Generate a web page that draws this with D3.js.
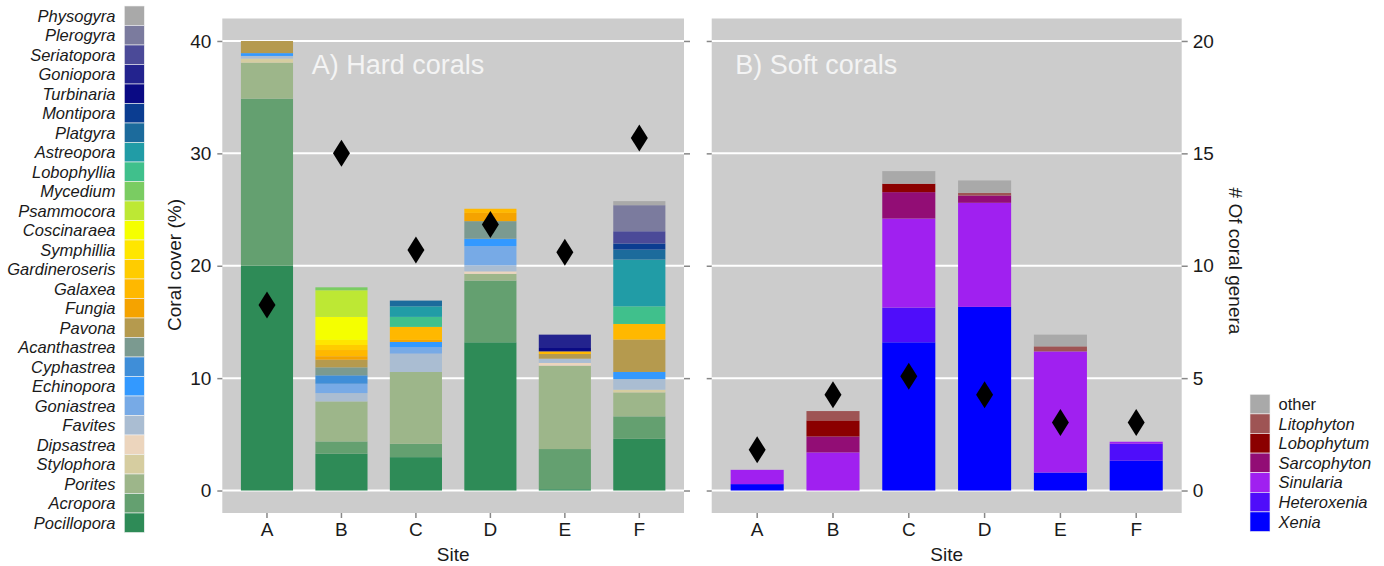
<!DOCTYPE html>
<html><head><meta charset="utf-8">
<script src="https://cdn.jsdelivr.net/npm/d3@7"></script>
<style>
body{margin:0;background:#fff;}
svg{display:block;font-family:"Liberation Sans",Arial,sans-serif;}
</style></head>
<body><svg id="chart" width="1384" height="566"></svg>
<script>
// ---------- DATA ----------
const sites = ["A","B","C","D","E","F"];

// hard coral genera, bottom of stack to top
const hardGenera = ["Pocillopora","Acropora","Porites","Stylophora","Dipsastrea","Favites","Goniastrea","Echinopora","Cyphastrea","Acanthastrea","Pavona","Fungia","Galaxea","Gardineroseris","Symphillia","Coscinaraea","Psammocora","Mycedium","Lobophyllia","Astreopora","Platgyra","Montipora","Turbinaria","Goniopora","Seriatopora","Plerogyra","Physogyra"];
const hardColors = ["#2e8b57","#64a070","#9db68a","#d6cda0","#ecd5bd","#aabdd2","#77aae6","#3399ff","#3f8ed8","#7b9a90","#b59a4e","#f5a300","#ffb800","#ffcc00","#ffe600","#f5ff00","#bde834","#7acc62","#40c08c","#219ca6","#1c6b9c","#0b3d91","#0a0a84","#23238e","#4b4a98","#7b7b9e","#a9a9a9"];

// cover (%) per genus, same order as hardGenera
const hardA = [20.0,14.87,3.2,0.36,0,0.24,0,0.25,0,0,1.08,0,0,0,0,0,0,0,0,0,0,0,0,0,0,0,0];
const hardB = [3.27,1.1,3.56,0,0,0.74,0.83,0,0.75,0.71,0.68,0.31,0.55,0.45,0.45,2.05,2.37,0.26,0,0,0,0,0,0,0,0,0];
const hardC = [2.97,1.19,6.39,0,0,1.63,0.59,0.45,0,0,0,0.18,1.16,0,0,0,0,0,0.89,0.94,0.51,0,0,0,0,0,0];
const hardD = [13.19,5.49,0.6,0,0.22,0.54,1.7,0.66,0,1.57,0,0.73,0.37,0,0,0,0,0,0,0,0,0,0,0,0,0,0];
const hardE = [0.12,3.57,7.42,0,0.24,0.38,0,0,0,0,0.42,0,0.23,0,0,0,0,0,0,0,0,0,0.3,1.19,0,0,0];
const hardF = [4.6,2.0,2.13,0.24,0,0.95,0,0.63,0,0,2.88,0,1.39,0,0,0,0,0,1.57,4.16,0.89,0.54,0,0,1.09,2.32,0.36];
const hardCover = [hardA,hardB,hardC,hardD,hardE,hardF];

// soft coral genera, bottom of stack to top
const softGenera = ["Xenia","Heteroxenia","Sinularia","Sarcophyton","Lobophytum","Litophyton","other"];
const softColors = ["#0000ff","#4f0dfa","#a020f0","#920d75","#8b0000","#9e5454","#a9a9a9"];
const softA = [0.57,0,1.27,0,0,0,0];
const softB = [0,0,3.39,1.42,1.43,0.83,0];
const softC = [13.19,3.09,7.92,2.35,0.75,0,1.12];
const softD = [16.34,0,9.26,0.65,0,0.24,1.1];
const softE = [1.6,0,10.78,0,0,0.45,1.04];
const softF = [2.65,1.51,0.18,0,0,0,0];
const softCover = [softA,softB,softC,softD,softE,softF];

// number of genera (right axis)
const hardRichness = [8.25,15.0,10.7,11.83,10.6,15.68];
const softRichness = [1.81,4.26,5.08,4.26,3.03,3.03];

const coverTicks = [0,10,20,30,40];
const generaTicks = [0,5,10,15,20];

// ---------- DRAW ----------
const svg = d3.select("#chart");
const FONT = '"Liberation Sans",Arial,sans-serif';
const pTop = 18.5, pBottom = 513;
const y = d3.scaleLinear().domain([-2,42]).range([pBottom, pTop]);
const yG = d3.scaleLinear().domain([-1,21]).range([pBottom, pTop]);

const panels = [
  {x0:222.3, x1:684, title:"A) Hard corals", titleDx:89.5, cover:hardCover, genera:hardGenera, colors:hardColors, rich:hardRichness, leftLabels:true, rightLabels:false},
  {x0:711.7, x1:1181.7, title:"B) Soft corals", titleDx:23.5, cover:softCover, genera:softGenera, colors:softColors, rich:softRichness, leftLabels:false, rightLabels:true}
];

panels.forEach(p => {
  const x = d3.scaleBand().domain(sites).range([p.x0,p.x1]).paddingInner(0.3).paddingOuter(0.25);
  const g = svg.append("g");
  g.append("rect").attr("x",p.x0).attr("y",pTop).attr("width",p.x1-p.x0).attr("height",pBottom-pTop).attr("fill","#cccccc");
  // grid
  g.selectAll("line.grid").data(coverTicks).enter().append("line")
    .attr("x1",p.x0).attr("x2",p.x1).attr("y1",d=>y(d)).attr("y2",d=>y(d))
    .attr("stroke","#ffffff").attr("stroke-width",2);
  // title
  g.append("text").attr("x",p.x0+p.titleDx).attr("y",73.5).text(p.title)
    .attr("fill","#f4f4f4").attr("font-size",27).attr("font-family",FONT);
  // bars
  const colorScale = d3.scaleOrdinal().domain(p.genera).range(p.colors);
  sites.forEach((s,i) => {
    const vals = p.cover[i];
    let cum = 0;
    vals.forEach((v,k) => {
      if (v <= 0) return;
      g.append("rect").attr("x",x(s)).attr("width",x.bandwidth())
        .attr("y",y(cum+v)).attr("height",y(cum)-y(cum+v))
        .attr("fill",colorScale(p.genera[k]));
      cum += v;
    });
  });
  // diamonds
  const hw = 8.5, hh = 13.5;
  g.selectAll("path.dia").data(p.rich).enter().append("path")
    .attr("d",(d,i)=>{const cx=x(sites[i])+x.bandwidth()/2, cy=yG(d);
      return `M${cx},${cy-hh}L${cx+hw},${cy}L${cx},${cy+hh}L${cx-hw},${cy}Z`;})
    .attr("fill","#000");
  // left axis
  const la = g.append("g").attr("transform",`translate(${p.x0},0)`)
    .call(d3.axisLeft(y).tickValues(coverTicks).tickSize(5).tickPadding(6).tickFormat(p.leftLabels?d3.format("d"):()=>""));
  // right axis
  const ra = g.append("g").attr("transform",`translate(${p.x1},0)`)
    .call(d3.axisRight(yG).tickValues(generaTicks).tickSize(6).tickPadding(5).tickFormat(p.rightLabels?d3.format("d"):()=>""));
  // bottom axis
  const ba = g.append("g").attr("transform",`translate(0,${pBottom})`)
    .call(d3.axisBottom(x).tickSize(5).tickPadding(5));
  [la,ra,ba].forEach(a=>{
    a.select(".domain").remove();
    a.selectAll(".tick line").attr("stroke","#888").attr("stroke-width",1.5);
    a.selectAll(".tick text").attr("fill","#1a1a1a").attr("font-size",19).attr("font-family",FONT);
  });
  g.append("text").attr("x",(p.x0+p.x1)/2).attr("y",560.5).attr("text-anchor","middle")
    .text("Site").attr("font-size",19).attr("fill","#1a1a1a").attr("font-family",FONT);
});

// axis titles
svg.append("text").attr("transform","translate(181,265) rotate(-90)").attr("text-anchor","middle")
  .text("Coral cover (%)").attr("font-size",19).attr("fill","#1a1a1a").attr("font-family",FONT);
svg.append("text").attr("transform","translate(1229,261) rotate(90)").attr("text-anchor","middle")
  .text("# Of coral genera").attr("font-size",19).attr("fill","#1a1a1a").attr("font-family",FONT);

// left legend (top item = last genus)
const legH = 19.5;
const hardRev = hardGenera.slice().reverse();
const hardColRev = hardColors.slice().reverse();
const lg = svg.append("g");
hardRev.forEach((gname,i)=>{
  const yy = 6 + i*legH;
  lg.append("rect").attr("x",124.3).attr("y",yy).attr("width",20).attr("height",legH)
    .attr("fill",hardColRev[i]).attr("stroke","#f2f2f2").attr("stroke-width",0.6);
  lg.append("text").attr("x",115.5).attr("y",yy+legH/2+5.8).attr("text-anchor","end")
    .attr("font-style","italic").attr("font-size",16.5).attr("fill","#1a1a1a").attr("font-family",FONT).text(gname);
});

// right legend
const softRev = softGenera.slice().reverse();
const softColRev = softColors.slice().reverse();
const rg = svg.append("g");
softRev.forEach((gname,i)=>{
  const yy = 394.3 + i*19.6;
  rg.append("rect").attr("x",1250).attr("y",yy).attr("width",20).attr("height",19.6)
    .attr("fill",softColRev[i]).attr("stroke","#f2f2f2").attr("stroke-width",0.6);
  rg.append("text").attr("x",1278.5).attr("y",yy+19.6/2+5.8)
    .attr("font-style",gname==="other"?"normal":"italic").attr("font-size",16.5).attr("fill","#1a1a1a").attr("font-family",FONT).text(gname);
});
</script></body></html>
